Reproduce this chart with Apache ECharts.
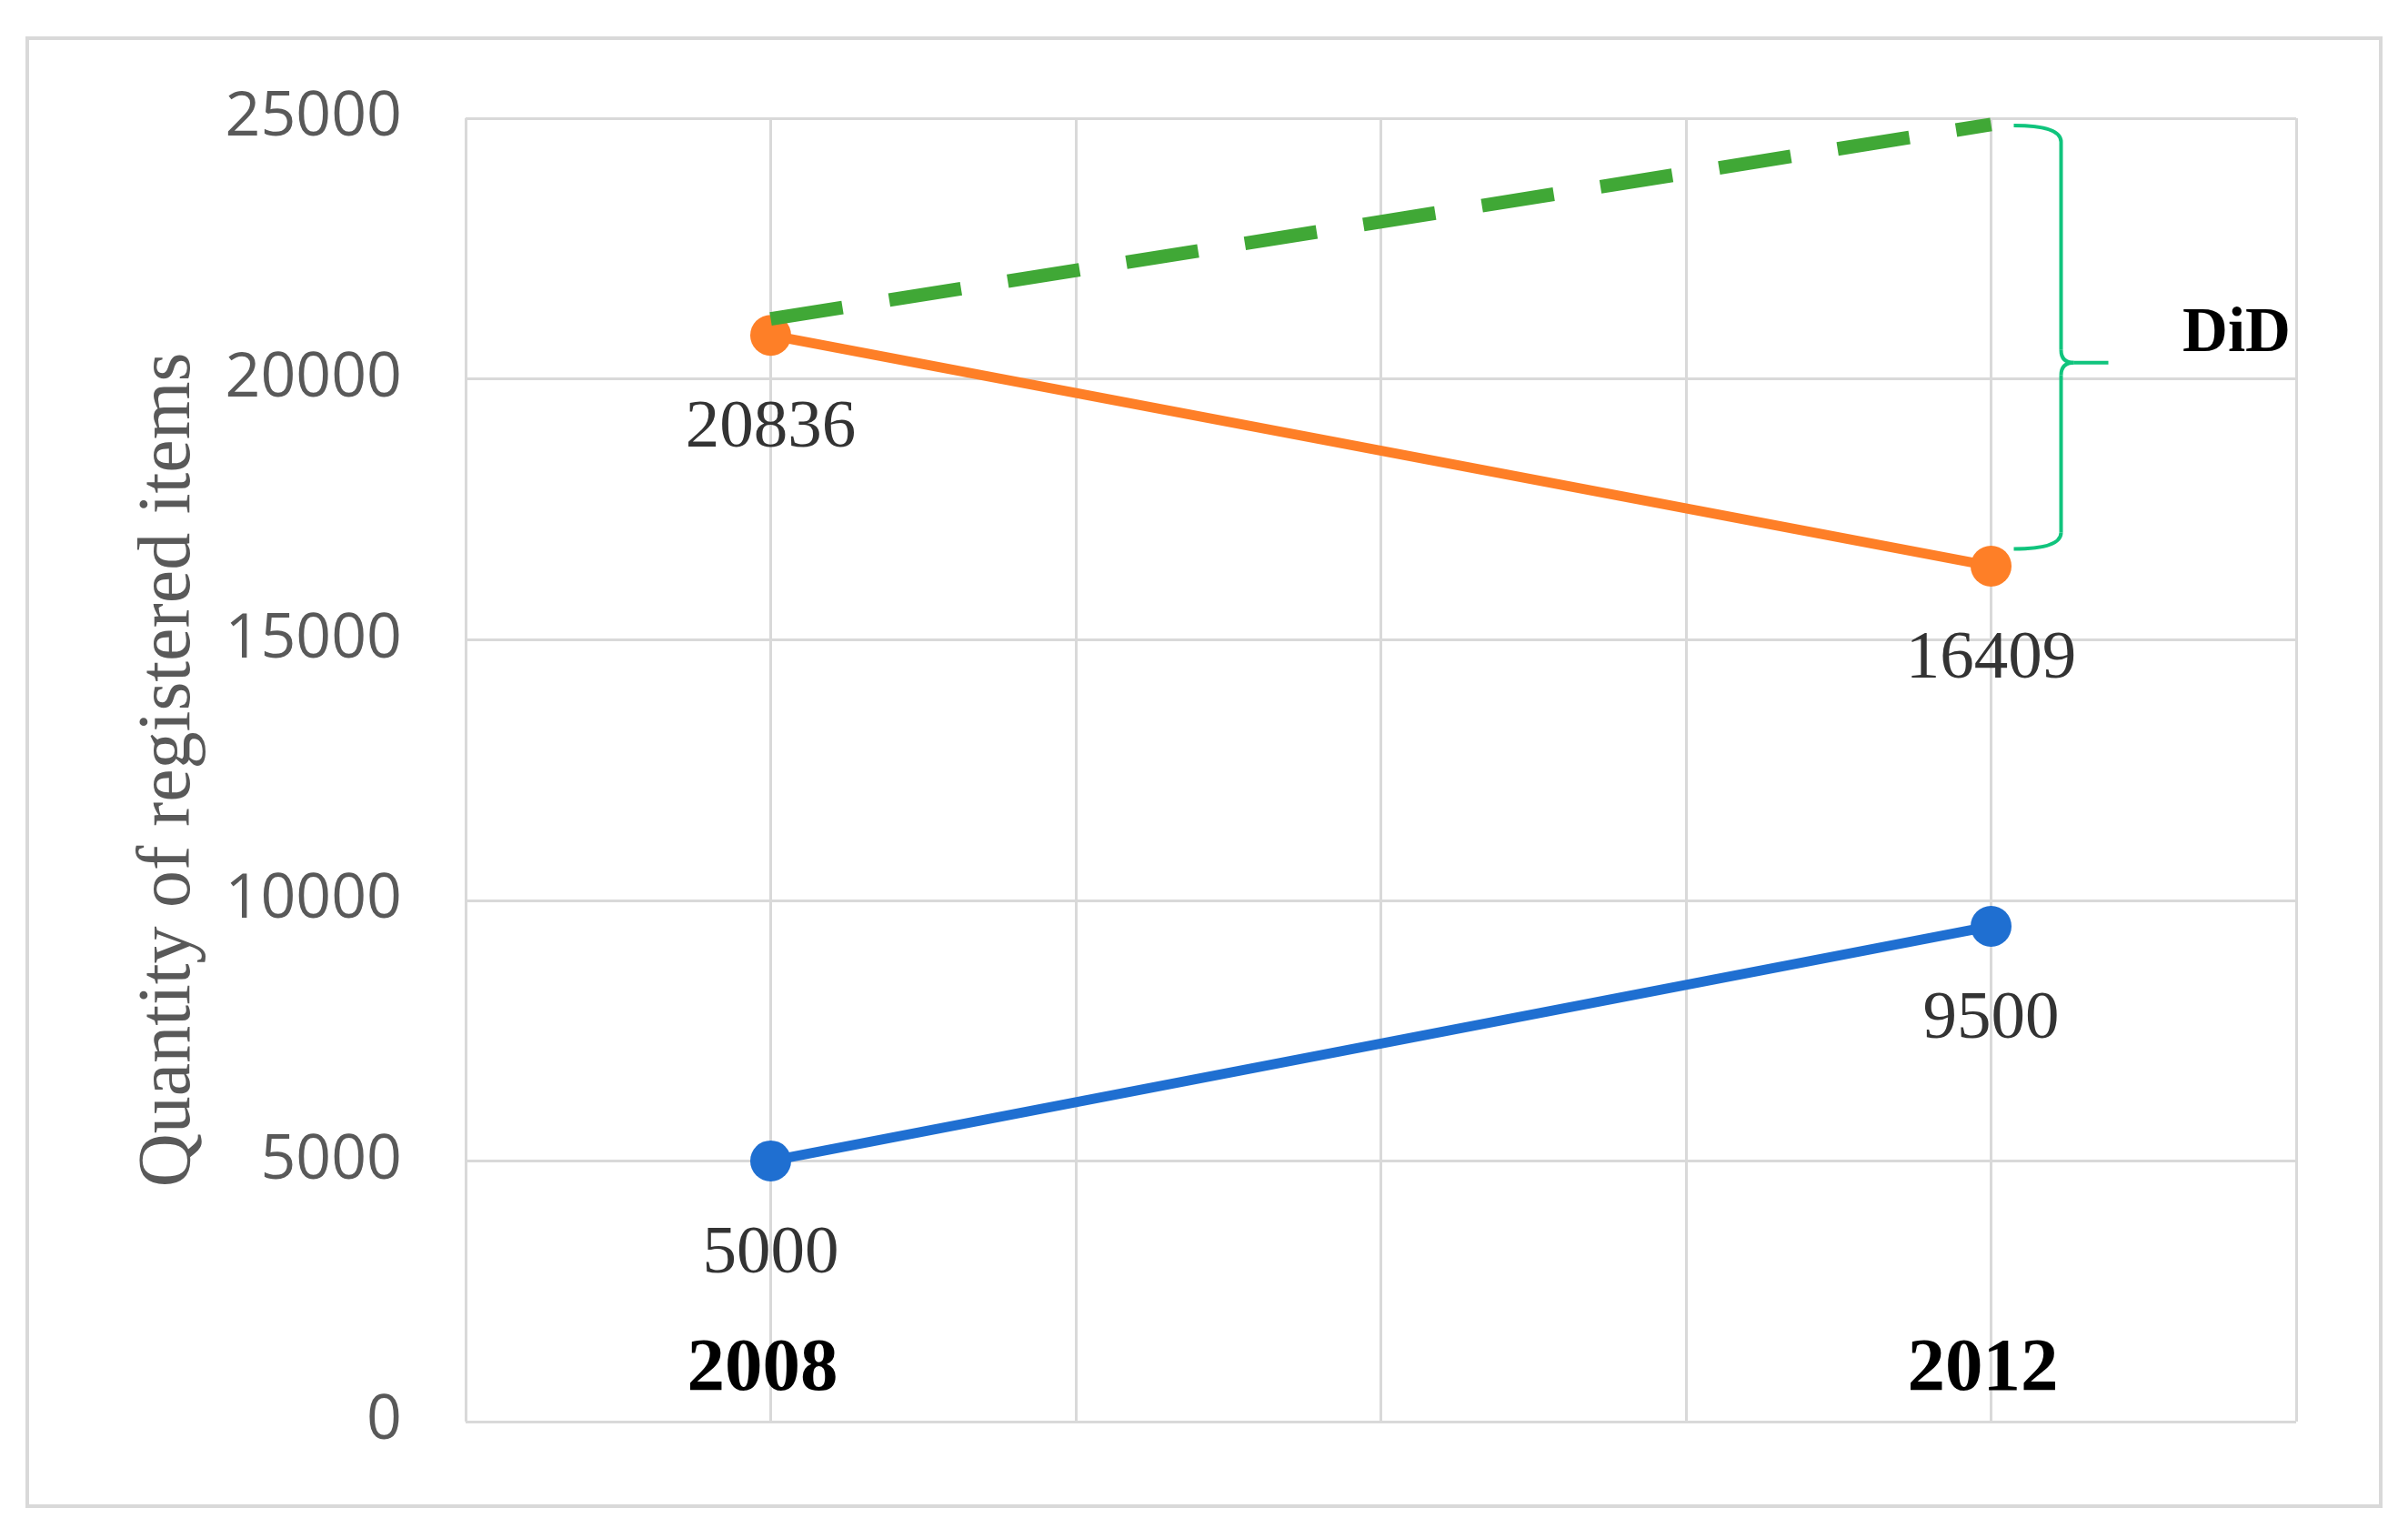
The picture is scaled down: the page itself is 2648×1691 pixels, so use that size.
<!DOCTYPE html>
<html>
<head>
<meta charset="utf-8">
<script src="https://cdn.jsdelivr.net/npm/echarts@6/dist/echarts.min.js"></script>
<style>
html,body{margin:0;padding:0;background:#fff;}
#c{width:2648px;height:1691px;}
</style>
</head>
<body>
<div id="c"></div>
<script>
// ---- data ----
var years = [2008, 2012];
var yearLabels = ['2008', '2012'];
var treated = [20836, 16409];        // orange
var control = [5000, 9500];          // blue
var counterfactual = [21150, 24880]; // green dashed
var yTicks = [0, 5000, 10000, 15000, 20000, 25000];
var braceValues = { top: 24860, tip: 20310, bottom: 16740 };
var braceLabel = 'DiD';
var yTitle = 'Quantity of registered items';

function pairs(xs, ys) { return xs.map(function (x, i) { return [x, ys[i]]; }); }

var chart = echarts.init(document.getElementById('c'), null, { renderer: 'canvas' });

var gridColor = '#d9d9d9';
var labelStyle = {
  show: true, position: 'bottom', distance: 43,
  fontFamily: 'Liberation Serif', fontSize: 75, color: '#333333'
};

chart.setOption({
  backgroundColor: '#ffffff',
  animation: false,
  grid: { left: 512, top: 130, right: 123, bottom: 128, outerBoundsMode: 'none', containLabel: false },
  xAxis: {
    type: 'value', min: 2007, max: 2013, interval: 1,
    axisLine: { show: false }, axisTick: { show: false },
    splitLine: { show: true, lineStyle: { color: gridColor, width: 3 } },
    axisLabel: {
      show: true, inside: true, margin: 15, padding: [0, 18, 0, 0],
      fontFamily: 'Liberation Serif', fontWeight: 'bold', fontSize: 83, color: '#000000',
      formatter: function (v) { var i = years.indexOf(v); return i >= 0 ? yearLabels[i] : ''; }
    }
  },
  yAxis: {
    type: 'value', min: yTicks[0], max: yTicks[yTicks.length - 1], interval: 5000,
    name: yTitle, nameLocation: 'middle', nameGap: 285,
    nameTextStyle: { fontFamily: 'Liberation Serif', fontSize: 82, color: '#595959' },
    axisLine: { show: false }, axisTick: { show: false },
    splitLine: { show: true, lineStyle: { color: gridColor, width: 3 } },
    axisLabel: {
      margin: 70, fontFamily: 'Open Sans', fontSize: 68, color: '#595959',
      formatter: function (v) { return String(v); }
    }
  },
  series: [
    {
      type: 'line', data: pairs(years, control), symbol: 'circle', symbolSize: 45,
      lineStyle: { color: '#1f6fd1', width: 11 }, itemStyle: { color: '#1f6fd1' },
      label: labelStyle, z: 3
    },
    {
      type: 'line', data: pairs(years, treated), symbol: 'circle', symbolSize: 45,
      lineStyle: { color: '#fe7f27', width: 11 }, itemStyle: { color: '#fe7f27' },
      label: labelStyle, z: 3
    },
    {
      type: 'line', data: pairs(years, counterfactual), symbol: 'none', showSymbol: false,
      lineStyle: { color: '#40a836', width: 15, type: [80, 52], cap: 'butt' },
      z: 4
    }
  ]
});

// ---- annotation: outer frame, curly brace and DiD label ----
var x0 = chart.convertToPixel({ gridIndex: 0 }, [years[1], 0])[0];
var yTop = chart.convertToPixel({ gridIndex: 0 }, [years[1], braceValues.top])[1];
var yTip = chart.convertToPixel({ gridIndex: 0 }, [years[1], braceValues.tip])[1];
var yBot = chart.convertToPixel({ gridIndex: 0 }, [years[1], braceValues.bottom])[1];
var xa = x0 + 25, xv = x0 + 77, xt = x0 + 129, r = 18, r2 = 14;
var braceStyle = { stroke: '#10c47d', lineWidth: 4, fill: null };

function curve(x1, y1, cx, cy, x2, y2) {
  return { type: 'bezierCurve', z: 10, silent: true,
    shape: { x1: x1, y1: y1, cpx1: cx, cpy1: cy, x2: x2, y2: y2 }, style: braceStyle };
}
function seg(x1, y1, x2, y2) {
  return { type: 'line', z: 10, silent: true,
    shape: { x1: x1, y1: y1, x2: x2, y2: y2 }, style: braceStyle };
}

chart.setOption({
  graphic: [
    {
      type: 'rect', z: -10, silent: true,
      shape: { x: 30, y: 42, width: 2588, height: 1614 },
      style: { fill: null, stroke: gridColor, lineWidth: 4 }
    },
    curve(xa, yTop, xv, yTop, xv, yTop + r),
    seg(xv, yTop + r, xv, yTip - r2),
    curve(xv, yTip - r2, xv, yTip, xv + 14, yTip),
    seg(xv + 14, yTip, xt, yTip),
    curve(xv + 14, yTip, xv, yTip, xv, yTip + r2),
    seg(xv, yTip + r2, xv, yBot - r),
    curve(xv, yBot - r, xv, yBot, xa, yBot),
    {
      type: 'text', z: 10, silent: true,
      x: xt + 141, y: yTip - 31,
      style: {
        text: braceLabel, fontFamily: 'Liberation Serif', fontWeight: 'bold', fontSize: 69,
        fill: '#000000', align: 'center', verticalAlign: 'middle'
      }
    }
  ]
});
</script>
</body>
</html>
